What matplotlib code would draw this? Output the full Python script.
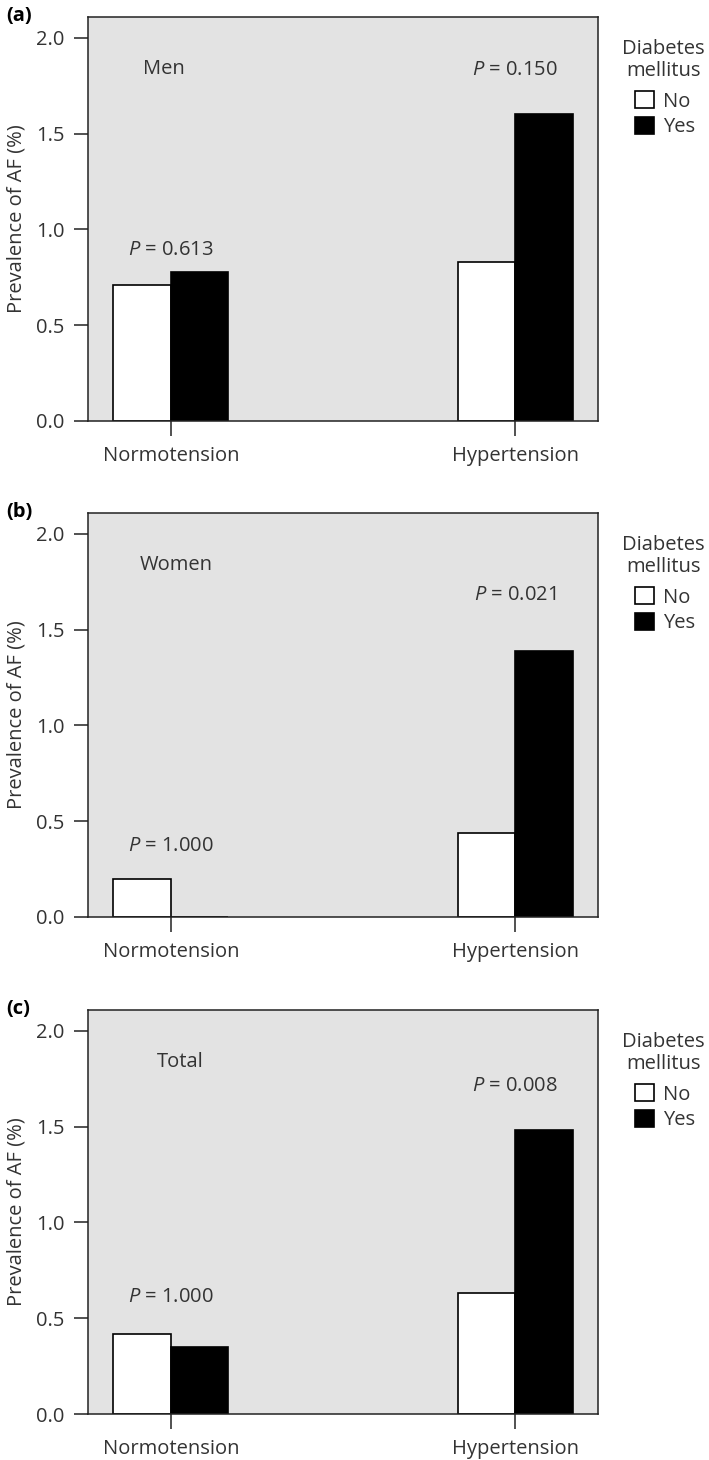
import matplotlib
matplotlib.use("Agg")
import matplotlib.pyplot as plt
from matplotlib.patches import Patch
import numpy as np

plt.rcParams['font.family'] = ['Open Sans', 'DejaVu Sans']
plt.rcParams['mathtext.fontset'] = 'custom'
plt.rcParams['mathtext.rm'] = 'Open Sans'
plt.rcParams['mathtext.it'] = 'Open Sans:italic'

# data
groups = ["Normotension", "Hypertension"]
panels = ["(a)", "(b)", "(c)"]
titles = ["Men", "Women", "Total"]
dm_no = [[0.71, 0.83], [0.20, 0.44], [0.42, 0.63]]
dm_yes = [[0.78, 1.60], [0.00, 1.39], [0.35, 1.48]]
p_text = [["0.613", "0.150"], ["1.000", "0.021"], ["1.000", "0.008"]]
# label positions
p_ypos = [[0.89, 1.83], [0.37, 1.68], [0.61, 1.71]]
title_x = [-0.02, 0.015, 0.027]

W, H = 709, 1460
fig = plt.figure(figsize=(W / 100, H / 100), dpi=100)

ax_left, ax_right = 88, 598
bottoms = [421, 917, 1414]
ax_h = 404
fs = 14.5
tc = '#333333'

bw = 0.167
x = np.arange(len(groups))

for i in range(3):
    ax = fig.add_axes([ax_left / W, 1 - bottoms[i] / H, (ax_right - ax_left) / W, ax_h / H])
    ax.set_facecolor('#e3e3e3')
    ax.bar(x - bw / 2, dm_no[i], bw, color='white', edgecolor='black', linewidth=1.2)
    ax.bar(x + bw / 2, dm_yes[i], bw, color='black', edgecolor='black', linewidth=1.2)
    ax.set_xlim(-0.241, 1.241)
    ax.set_ylim(0, 2.108)
    ax.set_yticks([0, 0.5, 1.0, 1.5, 2.0])
    ax.set_yticklabels(["0.0", "0.5", "1.0", "1.5", "2.0"])
    ax.set_xticks(x)
    ax.set_xticklabels(groups)
    ax.tick_params(axis='y', length=10, width=1.1, pad=7, labelsize=fs, colors='#222222', labelcolor=tc)
    ax.tick_params(axis='x', length=11, width=1.1, pad=7, labelsize=fs, colors='#222222', labelcolor=tc)
    for s in ax.spines.values():
        s.set_linewidth(1.1)
        s.set_color('#222222')
    ax.set_ylabel("Prevalence of AF (%)", fontsize=fs, color=tc, labelpad=7)
    ax.text(title_x[i], 1.835, titles[i], ha='center', va='center', fontsize=fs, color=tc)
    for j in range(2):
        ax.text(x[j], p_ypos[i][j], r"$P$ = " + p_text[i][j], ha='center', va='center',
                fontsize=fs, color=tc)
    fig.text(6 / W, 1 - (bottoms[i] - ax_h - 1) / H, panels[i], fontsize=fs, fontweight='bold',
             ha='left', va='center')

    # legend: title drawn separately to get the wider gap
    ax.text(1.129, 0.894, "Diabetes\nmellitus", transform=ax.transAxes, ha='center',
            va='center', multialignment='center', fontsize=fs, color=tc, linespacing=1.1)
    handles = [Patch(facecolor='white', edgecolor='black', linewidth=1.2),
               Patch(facecolor='black', edgecolor='black', linewidth=1.2)]
    leg = ax.legend(handles, ["No", "Yes"], frameon=False,
                    loc='upper left', bbox_to_anchor=(1.072, 0.817), fontsize=fs,
                    handlelength=0.95, handleheight=0.95,
                    handletextpad=0.45, labelspacing=0.25, borderpad=0, borderaxespad=0)
    for t in leg.get_texts():
        t.set_color(tc)

fig.savefig("out.png", dpi=100)
